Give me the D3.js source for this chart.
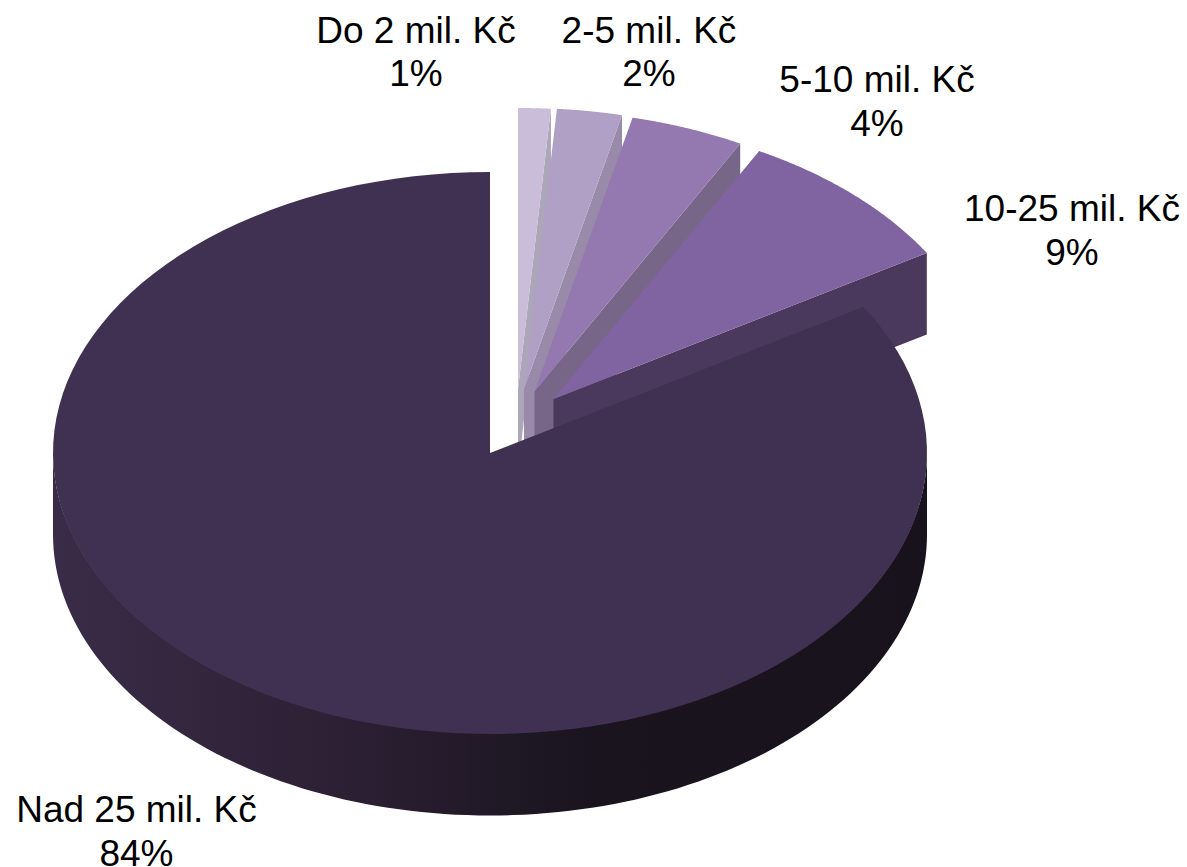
<!DOCTYPE html>
<html><head><meta charset="utf-8">
<script src="https://cdn.jsdelivr.net/npm/d3@7/dist/d3.min.js"></script>
<style>html,body{margin:0;padding:0;background:#fff}svg{display:block}</style>
</head><body><svg id="c" width="1187" height="867"></svg>
<script>
const categories = ["Do 2 mil. Kč","2-5 mil. Kč","5-10 mil. Kč","10-25 mil. Kč","Nad 25 mil. Kč"];
const shares = [1.2,2.4,4.2,8.5,83.7];
const valueLabels = ["1%","2%","4%","9%","84%"];
const faceColors = ["#c9bdd9","#b0a0c5","#9379b0","#8064a2","#403152"];
const wallColors = ["#aba6b8","#9a8aaa","#786688","#4b385d","#2a1e32"];
const explodeX = [28,34,44.5,63.5,0];
const explodeY = [-64,-64,-61.5,-54,0];
const labelX = [416,649,877,1072,136.5];
const labelY = [42.5,42.5,92,221,822];

const svg = d3.select("#c");
const x = d3.scaleLinear().domain([-1,1]).range([53,927]);
const y = d3.scaleLinear().domain([-1,1]).range([172,734]);
const depth = 81.5;
const pie = d3.pie().sort(null).value(d=>d);
const arcs = pie(shares);
const line = d3.line();
const px = (a,i)=>x(Math.sin(a))+explodeX[i];
const py = (a,i)=>y(-Math.cos(a))+explodeY[i];
const sample = (a0,a1)=>d3.range(0,121).map(k=>a0+(a1-a0)*k/120);

const defs = svg.append("defs");
const grad = defs.append("linearGradient").attr("id","rim").attr("gradientUnits","userSpaceOnUse")
  .attr("x1",x(-1)).attr("x2",x(1)).attr("y1",0).attr("y2",0);
[[0,"#3a2c48"],[0.16,"#33263d"],[0.3,"#2e2136"],[0.42,"#271c2e"],[0.52,"#1f1825"],[0.62,"#1a141f"],[1,"#18121d"]]
  .forEach(s=>grad.append("stop").attr("offset",s[0]).attr("stop-color",s[1]));

arcs.forEach((d,i)=>{
  const g = svg.append("g").attr("class","slice");
  const ax = x(0)+explodeX[i], ay = y(0)+explodeY[i];
  if(i<4){
    const a=d.endAngle;
    g.append("path").attr("fill",wallColors[i])
      .attr("d",line([[ax,ay],[px(a,i),py(a,i)],[px(a,i),py(a,i)+depth],[ax,ay+depth]])+"Z");
  } else {
    const rim = sample(Math.PI/2,Math.PI*1.5);
    const top = rim.map(a=>[px(a,i),py(a,i)-1]);
    const bot = rim.map(a=>[px(a,i),py(a,i)+depth]).reverse();
    g.append("path").attr("fill","url(#rim)").attr("d",line(top.concat(bot))+"Z");
  }
  const pts = [[ax,ay]].concat(sample(d.startAngle,d.endAngle).map(a=>[px(a,i),py(a,i)]));
  g.append("path").attr("fill",faceColors[i]).attr("d",line(pts)+"Z");
});

const labels = svg.append("g").attr("font-family","'Liberation Sans',Arial,sans-serif")
  .attr("font-size",37).attr("fill","#000").attr("text-anchor","middle");
categories.forEach((c,i)=>{
  labels.append("text").attr("x",labelX[i]).attr("y",labelY[i]).text(c);
  labels.append("text").attr("x",labelX[i]).attr("y",labelY[i]+43.5).text(valueLabels[i]);
});
</script></body></html>
